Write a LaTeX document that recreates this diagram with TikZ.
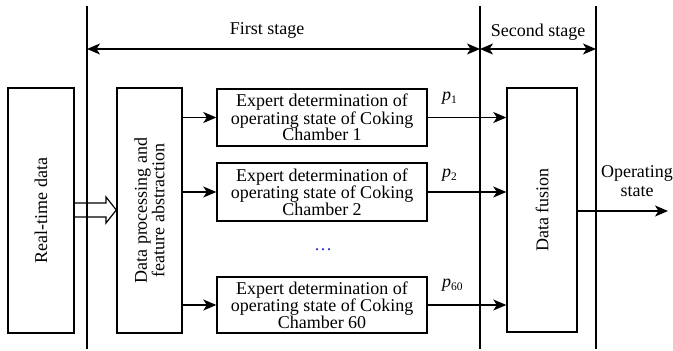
\documentclass[tikz,border=0pt]{standalone}
\usepackage{fontspec}
\setmainfont{Liberation Serif}
\newfontfamily\tnr{Liberation Serif}
\usetikzlibrary{arrows.meta}
\tikzset{
  box/.style={draw, line width=1.4pt, minimum width=#1, inner sep=0pt, align=center, font=\tnr\fontsize{18}{16.5}\selectfont},
  lbl/.style={font=\tnr\fontsize{18}{16.5}\selectfont, inner sep=0pt, align=center},
  tip/.style={},
  conn/.style={line width=1.4pt, -{Stealth[length=13pt,width=11pt,inset=3.5pt]}},
  dconn/.style={line width=1.4pt, {Stealth[length=13pt,width=11pt,inset=3.5pt]}-{Stealth[length=13pt,width=11pt,inset=3.5pt]}},
  vline/.style={line width=1.4pt},
}
\newcommand{\plab}[1]{\textit{p}\raisebox{-0.45ex}{\fontsize{11.5}{11.5}\selectfont #1}}
\begin{document}
\begin{tikzpicture}[x=1pt,y=-1pt]
\useasboundingbox (0,0) rectangle (673,351);
% vertical stage lines
\coordinate (v1t) at (87,6);   \coordinate (v1b) at (87,349);
\coordinate (v2t) at (480,6);  \coordinate (v2b) at (480,349);
\coordinate (v3t) at (596,6);  \coordinate (v3b) at (596,349);
\draw[vline] (v1t) -- (v1b);
\draw[vline] (v2t) -- (v2b);
\draw[vline] (v3t) -- (v3b);
% stage arrows
\coordinate (s1) at (87,49); \coordinate (s2) at (480,49); \coordinate (s3) at (596,49);
\draw[dconn] (s1) -- (s2);
\draw[dconn] (s2) -- (s3);
\node[lbl] (fs) at (267,30) {First stage};
\node[lbl] (ss) at (538,32) {Second stage};
% boxes
\node[box=66pt, minimum height=245pt] (rt) at (41,210.5) {};
\node[lbl, rotate=90] (rtt) at (rt.center) {Real-time data};
\node[box=65pt, minimum height=245pt] (dp) at (149.5,210.5) {};
\node[lbl, rotate=90] (dpt) at (dp.center) {Data processing and\\feature abstraction};
\node[box=210pt, minimum height=57pt] (e1) at (322,117.5) {Expert determination of\\operating state of Coking\\Chamber 1};
\node[box=210pt, minimum height=58pt] (e2) at (322,192) {Expert determination of\\operating state of Coking\\Chamber 2};
\node[box=210pt, minimum height=56pt] (e3) at (322,305) {Expert determination of\\operating state of Coking\\Chamber 60};
\node[box=70pt, minimum height=244pt] (df) at (542,210) {};
\node[lbl, rotate=90] (dft) at (df.center) {Data fusion};
\node[lbl, text={rgb,255:red,40;green,40;blue,200}] (dots) at (323,250) {\dots};
% hollow arrow
\draw[line width=1.2pt] (rt.east |- 0,203) -- (106,203) -- (106,197) -- (dp.west |- 0,210) -- (106,223) -- (106,217) -- (rt.east |- 0,217);
% connectors
\draw[conn] (dp.east |- e1.west) -- (e1.west);
\draw[conn] (dp.east |- e2.west) -- (e2.west);
\draw[conn] (dp.east |- e3.west) -- (e3.west);
\draw[conn] (e1.east) -- (df.west |- e1.east);
\draw[conn] (e2.east) -- (df.west |- e2.east);
\draw[conn] (e3.east) -- (df.west |- e3.east);
\coordinate (out) at (668,211);
\draw[conn] (df.east |- out) -- (out);
% labels
\node[lbl, anchor=base west] (p1) at (442,100) {\plab{1}};
\node[lbl, anchor=base west] (p2) at (442,177) {\plab{2}};
\node[lbl, anchor=base west] (p60) at (442,287) {\plab{60}};
\node[lbl, font=\tnr\fontsize{18}{19}\selectfont] (os) at (637,181) {Operating\\state};
\end{tikzpicture}
\end{document}
